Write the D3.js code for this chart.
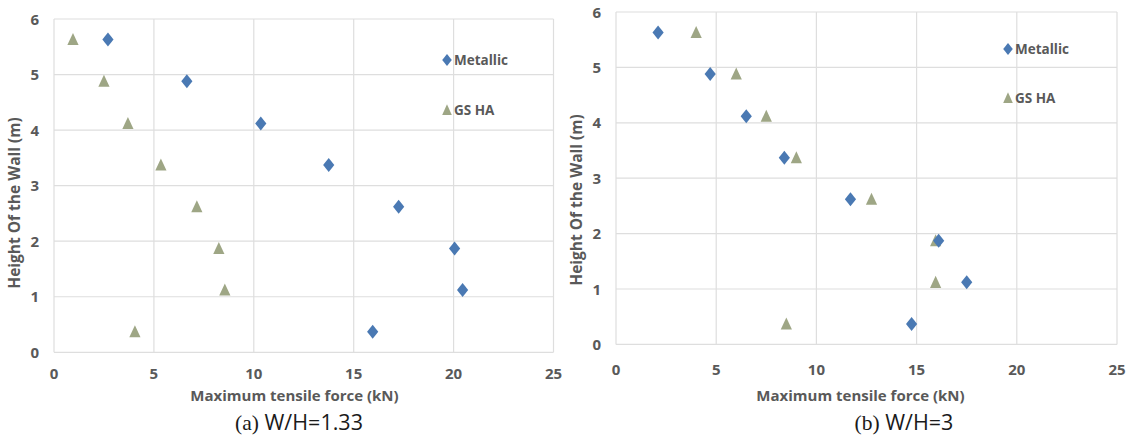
<!DOCTYPE html>
<html>
<head>
<meta charset="utf-8">
<script src="https://cdn.jsdelivr.net/npm/d3@7"></script>
<style>
html,body{margin:0;padding:0;background:#fff;}
svg{display:block;}
.lab{font-family:"Open Sans",sans-serif;font-weight:700;fill:#595959;}
</style>
</head>
<body>
<svg id="c" width="1131" height="441"></svg>
<script>
// ---- data ----
const heights = [5.63, 4.88, 4.12, 3.37, 2.62, 1.87, 1.12, 0.37];
const metallicA = [2.7, 6.65, 10.35, 13.75, 17.25, 20.05, 20.45, 15.95];
const gshaA     = [0.95, 2.5, 3.7, 5.35, 7.15, 8.25, 8.55, 4.05];
const metallicB = [2.1, 4.7, 6.5, 8.4, 11.7, 16.1, 17.5, 14.75];
const gshaB     = [4.0, 6.0, 7.5, 9.0, 12.75, 15.95, 15.95, 8.5];
const xTicks = [0, 5, 10, 15, 20, 25];
const yTicks = [0, 1, 2, 3, 4, 5, 6];
const seriesNames = ["Metallic", "GS HA"];
const xTitle = "Maximum tensile force (kN)";
const yTitle = "Height Of the Wall (m)";
const captions = [["(a)", " W/H=1.33"], ["(b)", " W/H=3"]];

const colMet = "#4a79b3";
const colGs = "#9ea685";

const svg = d3.select("#c");

// custom marker paths (centered at 0,0)
const diamondPath = (hw, hh) => `M0,${-hh}L${hw},0L0,${hh}L${-hw},0Z`;
const triPath = (hw, hh) => `M0,${-hh}L${hw},${hh * 0.85}L${-hw},${hh * 0.85}Z`;

function panel(cfg) {
  const x = d3.scaleLinear().domain([0, 25]).range([cfg.x0, cfg.x1]);
  const y = d3.scaleLinear().domain([0, 6]).range([cfg.y0, cfg.y1]);
  const g = svg.append("g");
  // grid
  g.selectAll(".gx").data(xTicks).join("line")
    .attr("x1", d => x(d)).attr("x2", d => x(d))
    .attr("y1", y(0)).attr("y2", y(6))
    .attr("stroke", "#dedede").attr("stroke-width", 1.2);
  g.selectAll(".gy").data(yTicks).join("line")
    .attr("x1", x(0)).attr("x2", x(25))
    .attr("y1", d => y(d)).attr("y2", d => y(d))
    .attr("stroke", "#dedede").attr("stroke-width", 1.2);
  // tick labels
  g.selectAll(".tx").data(xTicks).join("text").attr("class", "lab")
    .attr("x", d => x(d)).attr("y", cfg.tickY)
    .attr("text-anchor", "middle").attr("font-size", 15).text(d => d);
  g.selectAll(".ty").data(yTicks).join("text").attr("class", "lab")
    .attr("x", x(0) - 15).attr("y", d => y(d) + 5.5)
    .attr("text-anchor", "end").attr("font-size", 15).text(d => d);
  // axis titles
  g.append("text").attr("class", "lab")
    .attr("x", cfg.xtX).attr("y", cfg.xtY)
    .attr("text-anchor", "middle").attr("font-size", 15).text(xTitle);
  g.append("text").attr("class", "lab")
    .attr("transform", `translate(${cfg.ytX},${cfg.ytY}) rotate(-90)`)
    .attr("text-anchor", "middle").attr("font-size", 15.5).text(yTitle);
  // caption
  const cap = g.append("text").attr("x", cfg.capX).attr("y", cfg.capY)
    .attr("text-anchor", "middle").attr("font-size", 21.5).attr("fill", "#1a1a1a");
  cap.append("tspan").attr("font-family", "Liberation Serif, serif").text(cfg.cap[0]);
  cap.append("tspan").attr("font-family", "Open Sans, sans-serif").text(cfg.cap[1]);

  // points
  g.selectAll(".pg").data(heights.map((h, i) => ({h, v: cfg.gs[i]}))).join("path")
    .attr("d", triPath(5.6, 6.5)).attr("fill", colGs)
    .attr("transform", d => `translate(${x(d.v)},${y(d.h)})`);
  g.selectAll(".pm").data(heights.map((h, i) => ({h, v: cfg.met[i]}))).join("path")
    .attr("d", diamondPath(5.6, 7)).attr("fill", colMet)
    .attr("transform", d => `translate(${x(d.v)},${y(d.h)})`);
  // legend
  const leg = [[diamondPath(4.8, 6), colMet, seriesNames[0], cfg.legY[0]],
               [triPath(4.8, 5.8), colGs, seriesNames[1], cfg.legY[1]]];
  leg.forEach(([p, c, name, ly]) => {
    g.append("path").attr("d", p).attr("fill", c)
      .attr("transform", `translate(${cfg.legX},${ly})`);
    g.append("text").attr("class", "lab").attr("x", cfg.legX + 7).attr("y", ly + 5)
      .attr("font-size", 13.5).text(name);
  });
}

panel({x0: 54, x1: 553.5, y0: 352.3, y1: 19, tickY: 379, xtX: 294.5, xtY: 401, ytX: 20, ytY: 203,
  capX: 299, capY: 430, cap: captions[0], met: metallicA, gs: gshaA, legX: 447, legY: [60, 110]});
panel({x0: 616, x1: 1117, y0: 344.4, y1: 12, tickY: 375, xtX: 860.5, xtY: 401, ytX: 582, ytY: 200,
  capX: 904, capY: 430, cap: captions[1], met: metallicB, gs: gshaB, legX: 1008, legY: [49, 98]});
</script>
</body>
</html>
